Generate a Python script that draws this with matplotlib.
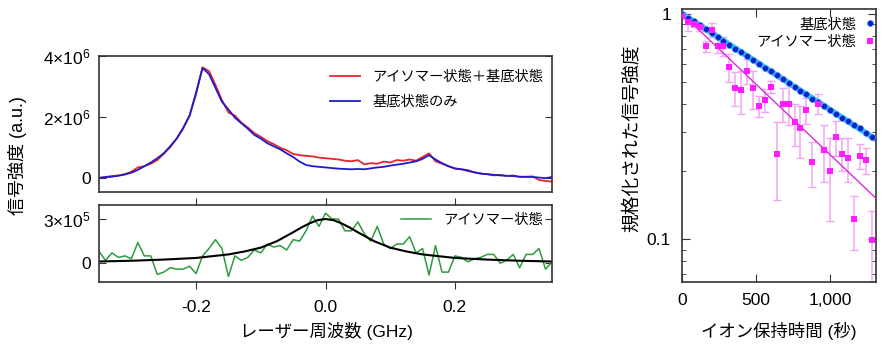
import numpy as np
import matplotlib
matplotlib.use("Agg")
import matplotlib.pyplot as plt
from matplotlib.ticker import FixedLocator, NullFormatter, FuncFormatter

plt.rcParams['font.family'] = ['Liberation Sans', 'Noto Sans CJK JP', 'DejaVu Sans']
plt.rcParams['mathtext.fontset'] = 'custom'
plt.rcParams['mathtext.rm'] = 'Liberation Sans'
plt.rcParams['mathtext.it'] = 'Liberation Sans:italic'

# ---------------- data ----------------
freq = np.round(np.linspace(-0.35, 0.35, 71), 2)  # GHz

ground_only = [0.02, 0.04, 0.06, 0.09, 0.13, 0.19, 0.28, 0.40, 0.52, 0.66,
               0.82, 1.05, 1.30, 1.65, 2.05, 2.80, 3.60, 3.40, 2.95, 2.50,
               2.25, 1.98, 1.80, 1.62, 1.42, 1.30, 1.15, 1.05, 0.95, 0.82,
               0.70, 0.55, 0.44, 0.40, 0.38, 0.36, 0.34, 0.32, 0.31, 0.30,
               0.31, 0.30, 0.33, 0.36, 0.38, 0.42, 0.45, 0.48, 0.52, 0.56,
               0.64, 0.76, 0.62, 0.50, 0.40, 0.33, 0.30, 0.27, 0.20, 0.16,
               0.14, 0.12, 0.10, 0.09, 0.08, 0.06, 0.05, 0.05, 0.03, 0.01, 0.05]
isomer_plus_ground = [0.02, 0.05, 0.08, 0.10, 0.14, 0.22, 0.36, 0.40, 0.48, 0.60,
                      0.80, 1.02, 1.30, 1.62, 2.05, 2.75, 3.62, 3.50, 3.05, 2.55,
                      2.15, 2.05, 1.82, 1.66, 1.48, 1.36, 1.22, 1.12, 1.00, 0.92,
                      0.80, 0.76, 0.74, 0.72, 0.68, 0.66, 0.64, 0.62, 0.58, 0.56,
                      0.60, 0.46, 0.50, 0.48, 0.55, 0.52, 0.60, 0.58, 0.62, 0.58,
                      0.70, 0.82, 0.56, 0.48, 0.40, 0.32, 0.30, 0.24, 0.20, 0.16,
                      0.14, 0.10, 0.12, 0.08, 0.10, 0.05, 0.06, 0.07, -0.05, -0.08, -0.10]
isomer = [0.8, 0.2, 0.7, 0.4, 0.5, 0.3, 1.4, 0.5, 0.5, -0.75,
          -0.6, -0.3, -0.4, -0.4, -0.2, -0.7, 0.5, 1.0, 1.6, 1.0,
          -0.9, 0.5, 0.2, 0.4, 0.9, 0.7, 1.3, 1.1, 1.2, 0.9,
          1.6, 1.5, 2.2, 3.2, 2.5, 3.4, 3.0, 3.0, 2.2, 2.2,
          2.8, 2.0, 1.5, 2.5, 1.3, 1.0, 1.3, 1.3, 1.8, 0.7,
          1.0, -0.8, 1.2, -0.6, -0.6, 0.5, 0.4, 0.1, 0.3, 0.4,
          0.6, 0.6, 0.0, 0.2, 0.6, -0.3, 0.6, 0.6, 1.0, -0.4, 0.1]
fit_x = [-0.35, -0.30, -0.25, -0.20, -0.15, -0.125, -0.10, -0.075, -0.0625, -0.05,
         -0.0375, -0.025, -0.0125, 0.0, 0.0125, 0.025, 0.0375, 0.05, 0.0625, 0.075,
         0.10, 0.125, 0.15, 0.20, 0.25, 0.30, 0.35]
fit_y = [0.12, 0.17, 0.25, 0.36, 0.60, 0.80, 1.06, 1.50, 1.80, 2.10,
         2.42, 2.70, 2.92, 3.00, 2.92, 2.70, 2.42, 2.10, 1.80, 1.50,
         1.06, 0.80, 0.60, 0.36, 0.25, 0.17, 0.12]

hold_time = [40 * k for k in range(33)]  # s
ground_norm = [1.00, 0.96, 0.925, 0.89, 0.855, 0.82, 0.79, 0.76, 0.73, 0.70,
               0.675, 0.65, 0.625, 0.60, 0.575, 0.555, 0.535, 0.515, 0.495, 0.475,
               0.455, 0.44, 0.42, 0.405, 0.39, 0.375, 0.36, 0.345, 0.335, 0.32,
               0.31, 0.295, 0.285]
isomer_norm = [0.98, 0.92, 0.90, 0.87, 0.72, 0.85, 0.72, 0.72, 0.58, 0.47,
               0.46, 0.56, 0.47, 0.39, 0.415, 0.475, 0.24, 0.40, 0.40, 0.33,
               0.31, 0.375, 0.22, 0.40, 0.25, 0.20, 0.285, 0.24, 0.23, 0.123,
               0.235, 0.225, 0.099]
isomer_err = [0.03, 0.08, 0.03, 0.03, 0.04, 0.06, 0.05, 0.07, 0.08, 0.08,
              0.10, 0.07, 0.09, 0.04, 0.05, 0.03, 0.09, 0.07, 0.08, 0.07,
              0.08, 0.05, 0.05, 0.04, 0.07, 0.08, 0.05, 0.04, 0.05, 0.033,
              0.03, 0.03, 0.034]
ground_fit_t = [0, 1310]
ground_fit_v = [1.0, 0.277]
isomer_fit_t = [0, 1310]
isomer_fit_v = [1.0, 0.152]

# ---------------- figure ----------------
W, H = 886, 353
fig = plt.figure(figsize=(W / 100, H / 100), dpi=100)

def box(l, r, t, b):
    return [l / W, 1 - b / H, (r - l) / W, (b - t) / H]

ax1 = fig.add_axes(box(99, 552, 55.7, 191.7))
ax2 = fig.add_axes(box(99, 552, 205, 282))
ax3 = fig.add_axes(box(682, 876, 9, 281.5))

spine_c = '#333333'
for ax in (ax1, ax2, ax3):
    for s in ax.spines.values():
        s.set_color(spine_c)
        s.set_linewidth(1.2)

RED = '#e8242c'
BLUE = '#1c1ccc'
GREEN = '#2e9a40'
TICK_FS = 12.5
LEG_FS = 10.3

# top panel
ax1.plot(freq, np.array(isomer_plus_ground) * 1e6, color=RED, lw=1.3,
         label='アイソマー状態＋基底状態')
ax1.plot(freq, np.array(ground_only) * 1e6, color=BLUE, lw=1.3, label='基底状態のみ')
ax1.set_xlim(-0.35, 0.35)
ax1.set_ylim(-0.43e6, 4.0e6)
ax1.set_yticks([0, 2e6, 4e6])
ax1.set_yticklabels(['0', r'2×10$^{6}$', r'4×10$^{6}$'])
ax1.set_xticks([])
ax1.tick_params(axis='y', direction='in', length=5, labelsize=TICK_FS, right=True, pad=6,
                color=spine_c)
ax1.legend(loc='upper left', bbox_to_anchor=(0.497, 0.94), frameon=False,
           fontsize=LEG_FS, handlelength=2.1, borderaxespad=0.0, labelspacing=0.8,
           handletextpad=0.85)

# bottom panel
ax2.plot(freq, np.array(isomer) * 1e5, color=GREEN, lw=1.1, label='アイソマー状態')
ax2.plot(fit_x, np.array(fit_y) * 1e5, color='black', lw=1.5)
ax2.set_xlim(-0.35, 0.35)
ax2.set_ylim(-1.27e5, 3.95e5)
ax2.set_yticks([0, 3e5])
ax2.set_yticklabels(['0', r'3×10$^{5}$'])
ax2.set_xticks([-0.2, 0.0, 0.2])
ax2.set_xticklabels(['-0.2', '0.0', '0.2'])
ax2.tick_params(axis='y', direction='in', length=5, labelsize=TICK_FS, right=True, pad=6,
                color=spine_c)
ax2.tick_params(axis='x', direction='out', length=5, labelsize=TICK_FS, top=True, pad=8,
                color=spine_c)
handles, labels = ax2.get_legend_handles_labels()
ax2.legend(handles[:1], labels[:1], loc='upper left', bbox_to_anchor=(0.655, 0.97),
           frameon=False, fontsize=LEG_FS, handlelength=2.1, borderaxespad=0.0,
           handletextpad=0.85)

fig.text(18 / W, 1 - 156 / H, '信号強度 (a.u.)', rotation=90, ha='center', va='center',
         fontsize=13)
fig.text(326 / W, 1 - 331 / H, 'レーザー周波数 (GHz)', ha='center', va='center',
         fontsize=12.5)

# right panel
ax3.set_yscale('log')
ax3.plot(ground_fit_t, ground_fit_v, color='#25c8ee', lw=4.2, solid_capstyle='butt', zorder=2)
ax3.errorbar(hold_time, isomer_norm, yerr=isomer_err, fmt='none', ecolor='#f2a6f2',
             elinewidth=1.1, capsize=3, capthick=1.0, zorder=1)
ax3.plot(isomer_fit_t, isomer_fit_v, color='#d82cd8', lw=1.0, zorder=3)
ax3.plot(hold_time, ground_norm, 'o', color='#0a22c8', ms=4.4, mec='#4fa0ff', mew=0.5,
         zorder=4, label='基底状態')
ax3.plot(hold_time, isomer_norm, 's', color='#ff1cff', ms=5, mew=0, zorder=5,
         label='アイソマー状態')
ax3.set_xlim(0, 1310)
ax3.set_ylim(0.065, 1.05)
ax3.yaxis.set_major_locator(FixedLocator([0.1, 1]))
ax3.yaxis.set_major_formatter(FuncFormatter(lambda v, p: '1' if v >= 1 else '0.1'))
ax3.yaxis.set_minor_locator(FixedLocator([0.07, 0.08, 0.09, 0.2, 0.3, 0.4, 0.5,
                                          0.6, 0.7, 0.8, 0.9]))
ax3.yaxis.set_minor_formatter(NullFormatter())
ax3.set_xticks([0, 500, 1000])
ax3.set_xticklabels(['0', '500', '1,000'])
ax3.tick_params(which='major', direction='in', length=6, labelsize=TICK_FS, top=True,
                right=True, color=spine_c, pad=8)
ax3.tick_params(which='minor', direction='in', length=3, top=True, right=True,
                color=spine_c)
ax3.legend(loc='upper right', bbox_to_anchor=(1.03, 0.99), frameon=False,
           fontsize=LEG_FS, markerfirst=False, handlelength=0.8, handletextpad=0.6,
           borderaxespad=0.0, labelspacing=0.22)

fig.text(632 / W, 1 - 138 / H, '規格化された信号強度', rotation=90, ha='center',
         va='center', fontsize=13.5)
fig.text(779 / W, 1 - 331 / H, 'イオン保持時間 (秒)', ha='center', va='center',
         fontsize=12.5)

fig.savefig('out.png', dpi=100)
